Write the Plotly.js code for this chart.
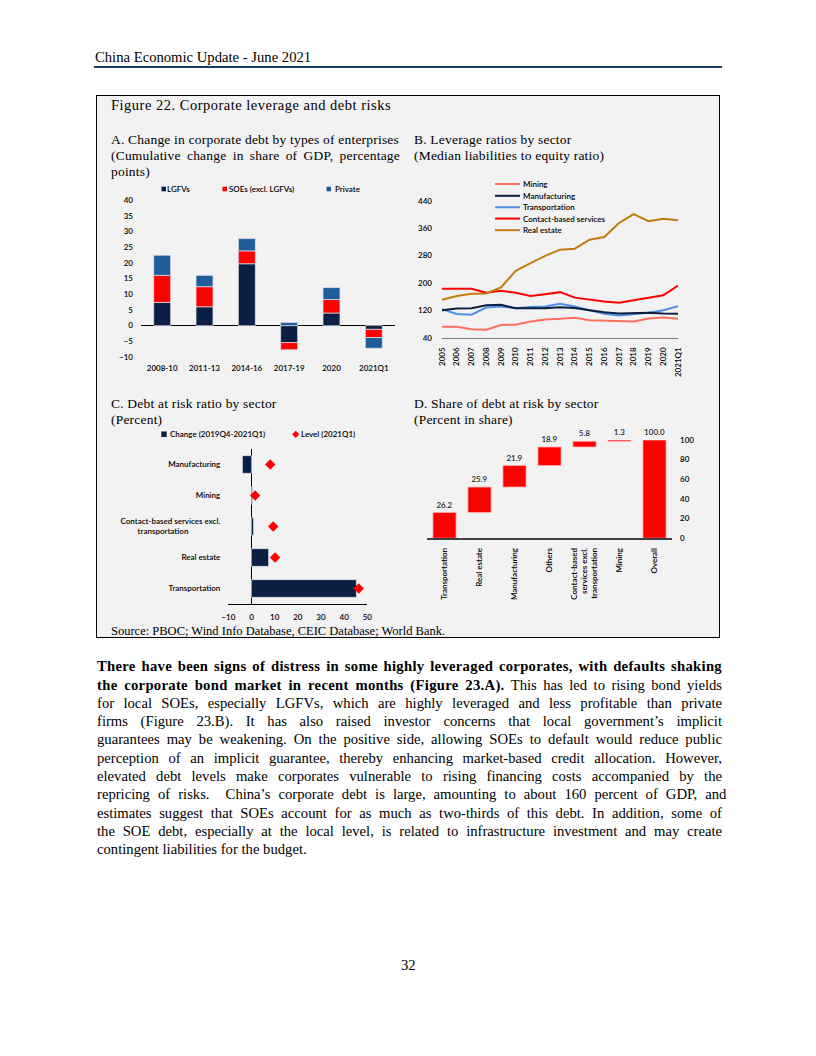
<!DOCTYPE html>
<html><head><meta charset="utf-8">
<script src="https://cdn.plot.ly/plotly-3.0.1.min.js"></script>
<style>
html,body{margin:0;padding:0;background:#fff;}
#page{position:relative;width:816px;height:1056px;overflow:hidden;background:#fff;}
.t{position:absolute;font-family:'Liberation Serif','Times New Roman',serif;color:#000;line-height:1;white-space:nowrap;}
.t b{letter-spacing:0.3px;}
</style></head><body>
<div id="page">
 <div style="position:absolute;left:96px;top:95px;width:624px;height:543px;box-sizing:border-box;border:1px solid #000;background:#f2f2f2;"></div>
 <div style="position:absolute;left:94px;top:65.5px;width:628px;height:2px;background:#1f3864;"></div>
 <div id="chart" style="position:absolute;left:0;top:0;width:816px;height:1056px;"></div>
</div>
<script>
// ---------- DATA ----------
// Panel A: change in corporate debt by type of enterprise (pp of GDP)
const periodsA = ['2008-10','2011-13','2014-16','2017-19','2020','2021Q1'];
const lgfvs        = [7.4, 6.0, 19.7, -5.4, 4.0, -1.2];
const soes         = [8.6, 6.4, 4.1, -2.3, 4.3, -2.6];
const privateFirms = [6.4, 3.6, 3.9, 1.0, 3.8, -3.4];
const legendA = ['LGFVs','SOEs (excl. LGFVs)','Private'];

// Panel B: median liabilities to equity ratio
const yearsB = ['2005','2006','2007','2008','2009','2010','2011','2012','2013','2014','2015','2016','2017','2018','2019','2020','2021Q1'];
const mining          = [72, 72, 65, 63, 77, 78, 87, 93, 95, 98, 91, 90, 90, 87, 96, 99, 95];
const manufacturing   = [120,125,126,135,136,126,126,126,129,127,120,114,111,113,113,111,110];
const transportation  = [123,109,107,128,131,126,130,131,139,131,120,110,105,108,113,120,132];
const contactServices = [183,183,183,171,177,171,162,167,173,157,151,146,142,150,156,164,192];
const realEstate      = [151,162,168,169,187,235,258,279,297,300,326,334,375,401,380,387,383];
const legendB = ['Mining','Manufacturing','Transportation','Contact-based services','Real estate'];

// Panel C: debt at risk ratio by sector (percent)
const sectorsC = ['Manufacturing','Mining','Contact-based services excl.<br>transportation','Real estate','Transportation'];
const ticksC   = ['Manufacturing','Mining','Contact-based services excl.<br>transportation\u00a0\u00a0\u00a0\u00a0\u00a0\u00a0\u00a0\u00a0\u00a0\u00a0\u00a0\u00a0\u00a0\u00a0\u00a0\u00a0','Real estate','Transportation'];
const changeC  = [-3.9, 0.4, 0.9, 7.4, 45.3];
const levelC   = [8.1, 1.6, 9.4, 10.2, 46.3];
const legendC  = ['Change (2019Q4-2021Q1)','Level (2021Q1)'];

// Panel D: share of debt at risk by sector (percent in share)
const sectorsD = ['Transportation','Real estate','Manufacturing','Others','Contact-based<br>services excl.<br>transportation','Mining','Overall'];
const shareD   = [26.2, 25.9, 21.9, 18.9, 5.8, 1.3, 100.0];
const measureD = ['relative','relative','relative','relative','relative','relative','total'];

// ---------- PAGE GEOMETRY HELPERS ----------
const W = 816, H = 1056;
const fx = x => x / W;
const fy = y => 1 - y / H;

const NAVY = '#0b1f44', RED = '#ff0000', BLUE = '#1f5c99';
const EDGE = 'rgba(225,232,242,0.85)';
const CHART_FONT = 'Lato, "Open Sans", sans-serif';
const FW = 600;

// ---------- TRACES ----------
const traces = [
  {type:'bar', name:legendA[0], x:periodsA, y:lgfvs, xaxis:'x', yaxis:'y', width:0.4, marker:{color:NAVY, line:{color:EDGE, width:0.8}}},
  {type:'bar', name:legendA[1], x:periodsA, y:soes, xaxis:'x', yaxis:'y', width:0.4, marker:{color:RED, line:{color:EDGE, width:0.8}}},
  {type:'bar', name:legendA[2], x:periodsA, y:privateFirms, xaxis:'x', yaxis:'y', width:0.4, marker:{color:BLUE, line:{color:EDGE, width:0.8}}},

  {type:'scatter', mode:'lines', name:legendB[0], x:yearsB, y:mining, xaxis:'x2', yaxis:'y2', line:{color:'#ff6f5e', width:2}},
  {type:'scatter', mode:'lines', name:legendB[2], x:yearsB, y:transportation, xaxis:'x2', yaxis:'y2', line:{color:'#4f8fe6', width:2}},
  {type:'scatter', mode:'lines', name:legendB[1], x:yearsB, y:manufacturing, xaxis:'x2', yaxis:'y2', line:{color:'#0b1f3f', width:2}},
  {type:'scatter', mode:'lines', name:legendB[3], x:yearsB, y:contactServices, xaxis:'x2', yaxis:'y2', line:{color:RED, width:2}},
  {type:'scatter', mode:'lines', name:legendB[4], x:yearsB, y:realEstate, xaxis:'x2', yaxis:'y2', line:{color:'#c27c0e', width:2}},

  {type:'bar', orientation:'h', name:legendC[0], x:changeC, y:sectorsC, xaxis:'x3', yaxis:'y3', width:0.57, marker:{color:NAVY, line:{color:EDGE, width:0.8}}},
  {type:'scatter', mode:'markers', name:legendC[1], x:levelC, y:sectorsC, xaxis:'x3', yaxis:'y3', cliponaxis:false, marker:{symbol:'diamond', size:8, color:RED}},

  {type:'waterfall', x:sectorsD, y:shareD, measure:measureD, xaxis:'x4', yaxis:'y4',
   text:shareD.map(v => v.toFixed(1)), textposition:'outside', cliponaxis:false,
   textfont:{size:8, color:'#262626', weight:FW},
   increasing:{marker:{color:RED, line:{color:'#ffb0b0', width:0.8}}},
   totals:{marker:{color:RED, line:{color:'#ffb0b0', width:0.8}}},
   connector:{visible:false}}
];

// ---------- LEGENDS (drawn as swatches + labels) ----------
const shapes = [], annotations = [];
function sq(x0, x1, y0, y1, color){
  shapes.push({type:'rect', xref:'paper', yref:'paper', x0:fx(x0), x1:fx(x1), y0:fy(y1), y1:fy(y0), fillcolor:color, line:{width:0}});
}
function seg(x0, x1, y, color){
  shapes.push({type:'line', xref:'paper', yref:'paper', x0:fx(x0), x1:fx(x1), y0:fy(y), y1:fy(y), line:{color:color, width:2}});
}
function label(text, x, y){
  annotations.push({xref:'paper', yref:'paper', x:fx(x), y:fy(y), xanchor:'left', yanchor:'middle', showarrow:false, borderpad:0, text:text, font:{size:8, color:'#000', weight:FW}});
}
// A
const legAy = 189;
[[161.5, NAVY, 166], [222.5, RED, 227.5], [326.5, BLUE, 333.5]].forEach((d, i) => {
  sq(d[0], d[0] + 4.5, legAy - 2.3, legAy + 2.3, d[1]); label(legendA[i], d[2], legAy);
});
// B
const legBy = [184, 195.8, 207.3, 218.6, 230.2];
const legBc = ['#ff6f5e', '#0b1f3f', '#4f8fe6', RED, '#c27c0e'];
legBy.forEach((y, i) => { seg(495, 520, y, legBc[i]); label(legendB[i], 522, y); });
// C
sq(161.3, 166.7, 431.5, 437, NAVY); label(legendC[0], 168.8, 434.3);
(function(){ const cx = 295.7, cy = 434.3, r = 3.6;
  shapes.push({type:'path', xref:'paper', yref:'paper', fillcolor:RED, line:{width:0},
    path:`M ${fx(cx)},${fy(cy - r)} L ${fx(cx + r)},${fy(cy)} L ${fx(cx)},${fy(cy + r)} L ${fx(cx - r)},${fy(cy)} Z`});
})();
label(legendC[1], 300, 434.3);

// ---------- LAYOUT ----------
const noGrid = {showgrid:false, fixedrange:true};
const layout = {
  width:W, height:H, autosize:false, margin:{l:0, r:0, t:0, b:0},
  paper_bgcolor:'rgba(0,0,0,0)', plot_bgcolor:'rgba(0,0,0,0)',
  font:{family:CHART_FONT, size:8, color:'#000', weight:FW},
  showlegend:false, barmode:'relative', waterfallgap:0.34,
  xaxis:Object.assign({domain:[fx(141), fx(395)], anchor:'y', type:'category', zeroline:false, showline:false, ticks:'', ticklabelstandoff:5}, noGrid),
  yaxis:Object.assign({domain:[fy(357), fy(200)], anchor:'x', range:[-10, 40], tick0:0, dtick:5, zeroline:true, zerolinecolor:'#000', zerolinewidth:1.2, showline:false, ticks:'', ticklabelstandoff:7}, noGrid),

  xaxis2:Object.assign({domain:[fx(442), fx(678)], anchor:'y2', type:'category', tickangle:-90, showline:true, linecolor:'#7f7f7f', linewidth:1.5, zeroline:false, ticks:'', ticklabelstandoff:5}, noGrid),
  yaxis2:Object.assign({domain:[fy(337.7), fy(200.7)], anchor:'x2', range:[40, 440], tick0:40, dtick:80, zeroline:false, showline:false, ticks:'', ticklabelstandoff:9}, noGrid),

  xaxis3:Object.assign({domain:[fx(228.3), fx(367.3)], anchor:'y3', range:[-10, 50], tick0:0, dtick:10, showline:true, linecolor:'#000', linewidth:1.2, zeroline:true, zerolinecolor:'#000', zerolinewidth:1.2, ticks:'', ticklabelstandoff:5}, noGrid),
  yaxis3:Object.assign({domain:[fy(604), fy(449)], anchor:'x3', type:'category', autorange:'reversed', tickmode:'array', tickvals:sectorsC, ticktext:ticksC, showline:false, zeroline:false, ticks:'', ticklabelstandoff:7}, noGrid),

  xaxis4:Object.assign({domain:[fx(427), fx(672)], anchor:'y4', type:'category', tickangle:-90, showline:true, linecolor:'#404040', linewidth:1.5, zeroline:false, ticks:'', ticklabelstandoff:5}, noGrid),
  yaxis4:Object.assign({domain:[fy(538.3), fy(440)], anchor:'x4', side:'right', range:[0, 100], tick0:0, dtick:20, showline:false, zeroline:false, ticks:'', ticklabelstandoff:7}, noGrid),

  shapes:shapes, annotations:annotations
};

Plotly.newPlot('chart', traces, layout, {staticPlot:true, displayModeBar:false});

// ---------- PAGE TEXT ----------
const page = document.getElementById('page');
function addText(html, x, baseline, size, opt){
  opt = opt || {};
  const d = document.createElement('div');
  d.className = 't';
  d.innerHTML = html;
  d.style.left = x + 'px';
  d.style.top = (baseline - 0.8375 * size) + 'px';
  d.style.fontSize = size + 'px';
  if (opt.ls) d.style.letterSpacing = opt.ls + 'px';
  if (opt.bold) d.style.fontWeight = 'bold';
  page.appendChild(d);
  if (opt.width) {
    const w = d.getBoundingClientRect().width;
    const n = (d.textContent.match(/ /g) || []).length;
    if (n) d.style.wordSpacing = ((opt.width - w) / n) + 'px';
  }
  return d;
}
addText('China Economic Update - June 2021', 95, 62, 14.67);
addText('Figure 22. Corporate leverage and debt risks', 111, 110.5, 14.5, {ls:0.5});
addText('A. Change in corporate debt by types of enterprises', 111, 144.5, 13.5, {ls:0.2});
addText('(Cumulative change in share of GDP, percentage', 111, 160.5, 13.5, {ls:0.2, width:289});
addText('points)', 111, 176.5, 13.5, {ls:0.2});
addText('B. Leverage ratios by sector', 414, 144.5, 13.5, {ls:0.2});
addText('(Median liabilities to equity ratio)', 414, 160.5, 13.5, {ls:0.2});
addText('C. Debt at risk ratio by sector', 111, 408.5, 13.5, {ls:0.2});
addText('(Percent)', 111, 424.5, 13.5, {ls:0.2});
addText('D. Share of debt at risk by sector', 414, 408.5, 13.5, {ls:0.2});
addText('(Percent in share)', 414, 424.5, 13.5, {ls:0.2});
addText('Source: PBOC; Wind Info Database, CEIC Database; World Bank.', 111, 635, 12.5);

const para = [
  ['<b>There have been signs of distress in some highly leveraged corporates, with defaults shaking</b>', true],
  ['<b>the corporate bond market in recent months (Figure 23.A).</b> This has led to rising bond yields', true],
  ['for local SOEs, especially LGFVs, which are highly leveraged and less profitable than private', true],
  ['firms (Figure 23.B). It has also raised investor concerns that local government\u2019s implicit', true],
  ['guarantees may be weakening. On the positive side, allowing SOEs to default would reduce public', true],
  ['perception of an implicit guarantee, thereby enhancing market-based credit allocation. However,', true],
  ['elevated debt levels make corporates vulnerable to rising financing costs accompanied by the', true],
  ['repricing of risks. \u00a0China\u2019s corporate debt is large, amounting to about 160 percent of GDP, and', true],
  ['estimates suggest that SOEs account for as much as two-thirds of this debt. In addition, some of', true],
  ['the SOE debt, especially at the local level, is related to infrastructure investment and may create', true],
  ['contingent liabilities for the budget.', false]
];
para.forEach((p, i) => {
  addText(p[0], 97, 671.5 + i * 18.3, 14.67, p[1] ? {width:625} : {});
});
addText('32', 401, 970, 14.67);
</script>
</body></html>
